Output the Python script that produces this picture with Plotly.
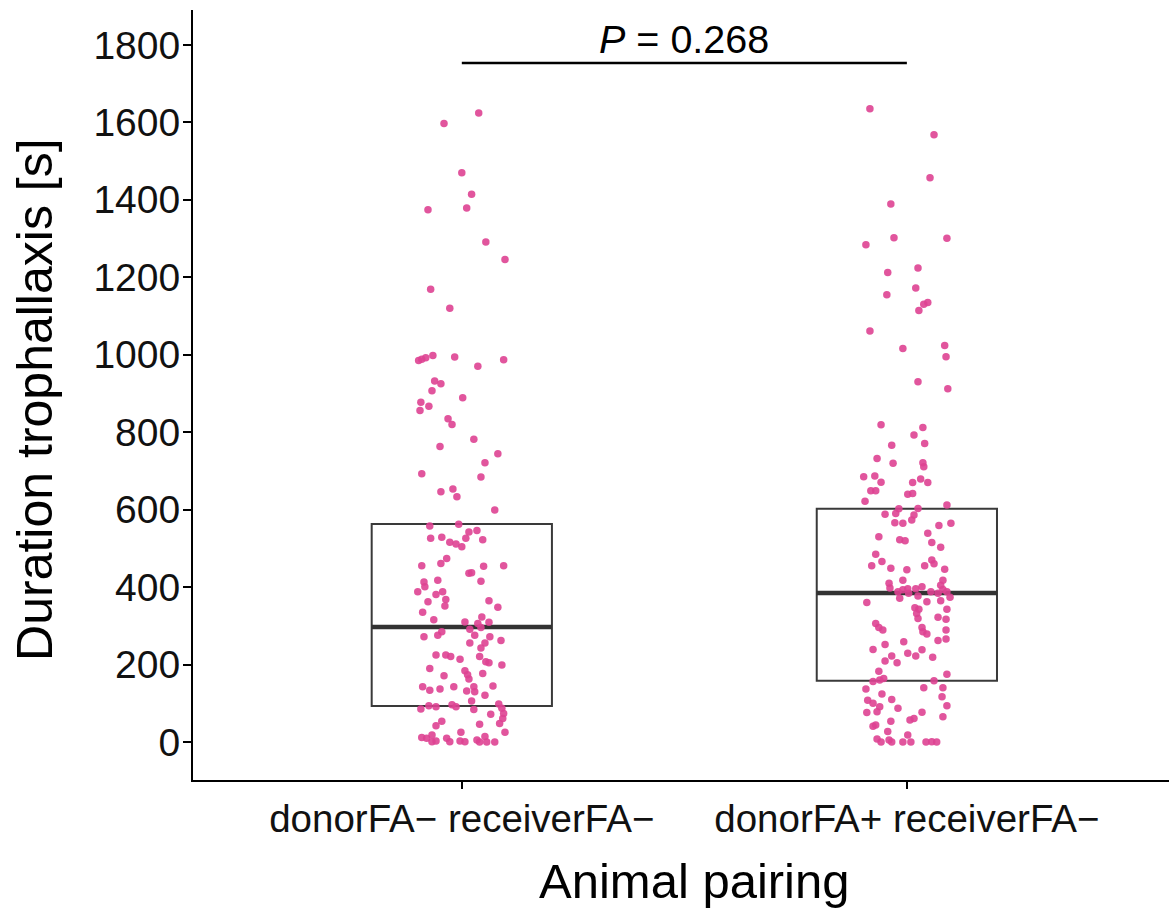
import plotly.graph_objects as go

# Group labels and summary statistics (seconds)
categories = ["donorFA\u2212 receiverFA\u2212", "donorFA+ receiverFA\u2212"]
q1_vals = [93, 158]
median_vals = [297, 385]
q3_vals = [563, 602]

# Individual trophallaxis durations: horizontal jitter (category units) and duration (s)
jitter_a = [0.038, -0.040, 0.000, 0.022, -0.076, 0.011, 0.054, 0.097, -0.070, -0.027,
            -0.097, -0.090, -0.081, -0.065, -0.016, 0.036, 0.094, -0.061, -0.047, -0.067,
            0.002, -0.092, -0.074, -0.094, -0.031, -0.022, 0.027, -0.049, 0.081, 0.052,
            -0.090, 0.043, -0.047, -0.020, -0.011, 0.074, -0.072, -0.007, 0.016, 0.034,
            -0.070, -0.045, -0.027, -0.013, 0.000, 0.009, 0.047, -0.034, -0.047, -0.090,
            0.049, 0.094, 0.016, 0.022, -0.054, 0.043, -0.085, -0.083, -0.099, -0.058,
            -0.043, -0.036, -0.076, -0.038, 0.061, 0.081, -0.088, 0.045, -0.063, 0.007,
            0.036, 0.061, 0.043, 0.018, -0.045, -0.054, -0.085, 0.029, 0.063, 0.088,
            0.018, 0.052, 0.043, -0.058, -0.036, -0.025, -0.004, 0.040, 0.054, 0.061,
            -0.072, 0.090, 0.007, -0.040, 0.013, 0.016, 0.047, -0.088, -0.072, -0.049,
            -0.018, 0.011, 0.027, 0.029, 0.052, 0.070, 0.022, -0.092, -0.074, -0.058,
            -0.022, -0.013, 0.027, 0.083, 0.090, 0.094, 0.065, 0.092, 0.085, -0.045,
            -0.058, 0.040, 0.097, -0.002, -0.090, -0.079, -0.067, -0.067, -0.058, -0.034,
            -0.027, -0.004, 0.007, 0.034, 0.040, 0.052, 0.056, 0.074]
duration_a = [1624, 1597, 1470, 1414, 1374, 1379, 1291, 1246, 1169, 1120,
              985, 988, 992, 998, 994, 970, 987, 932, 925, 907,
              889, 877, 867, 856, 835, 820, 782, 763, 744, 721,
              693, 684, 646, 653, 633, 599, 558, 562, 542, 546,
              526, 529, 516, 511, 504, 526, 522, 474, 461, 455,
              454, 455, 436, 437, 418, 415, 413, 401, 388, 381,
              388, 368, 362, 351, 365, 348, 335, 323, 316, 310,
              306, 309, 296, 291, 285, 276, 272, 276, 272, 262,
              256, 256, 243, 225, 225, 221, 214, 221, 207, 205,
              190, 199, 184, 171, 174, 163, 177, 143, 134, 137,
              143, 132, 143, 130, 121, 145, 106, 85, 94, 91,
              96, 91, 84, 98, 87, 74, 72, 61, 48, 54,
              42, 46, 25, 25, 12, 10, 18, 1, 3, 10,
              1, 3, 1, 5, 0, 14, 0, 0]

jitter_b = [-0.083, 0.061, 0.052, -0.036, -0.092, -0.029, 0.090, -0.043, 0.025, 0.020,
            -0.045, 0.047, 0.038, 0.027, -0.083, -0.009, 0.085, 0.088, 0.025, 0.092,
            -0.058, 0.036, 0.016, 0.040, -0.034, -0.067, -0.031, 0.036, 0.038, -0.097,
            -0.072, -0.058, 0.013, 0.031, 0.047, -0.081, -0.070, 0.002, 0.013, -0.094,
            0.090, -0.018, 0.025, -0.049, -0.025, 0.016, -0.027, -0.009, 0.011, 0.072,
            0.099, -0.063, 0.047, -0.016, -0.004, 0.056, 0.076, -0.070, -0.056, -0.079,
            -0.036, 0.000, 0.040, 0.056, 0.061, 0.085, -0.009, -0.040, 0.081, 0.076,
            0.081, -0.038, -0.020, -0.009, 0.002, 0.020, 0.034, 0.054, 0.070, 0.090,
            -0.016, 0.004, 0.025, 0.097, -0.090, 0.045, 0.076, 0.018, 0.027, 0.090,
            0.022, 0.025, 0.070, 0.088, -0.070, -0.063, -0.054, 0.034, 0.036, 0.045,
            0.088, 0.070, 0.088, -0.007, -0.049, -0.076, 0.002, 0.034, 0.020, -0.034,
            -0.049, -0.022, 0.058, -0.063, 0.090, -0.076, -0.061, -0.052, 0.061, -0.092,
            0.038, 0.081, -0.056, 0.079, -0.088, -0.076, -0.034, 0.090, -0.061, -0.020,
            -0.090, -0.067, 0.034, 0.081, 0.016, 0.007, -0.036, -0.076, -0.070, -0.043,
            0.002, -0.067, -0.058, -0.040, -0.034, -0.009, 0.009, 0.043, 0.056, 0.067]
duration_b = [1635, 1568, 1457, 1389, 1284, 1302, 1301, 1212, 1224, 1172,
              1155, 1135, 1130, 1114, 1061, 1016, 1024, 995, 930, 912,
              819, 812, 793, 771, 766, 732, 720, 721, 711, 685,
              687, 671, 670, 679, 670, 649, 649, 640, 642, 622,
              612, 602, 603, 588, 590, 586, 566, 565, 573, 559,
              565, 530, 539, 522, 520, 515, 503, 485, 466, 455,
              449, 445, 455, 470, 460, 446, 418, 410, 418, 405,
              394, 398, 388, 393, 396, 396, 401, 388, 384, 388,
              371, 384, 377, 374, 360, 362, 365, 347, 343, 343,
              332, 319, 322, 317, 306, 296, 289, 296, 285, 279,
              289, 262, 266, 259, 252, 239, 229, 238, 222, 222,
              209, 205, 219, 183, 175, 156, 160, 164, 158, 137,
              140, 140, 124, 117, 108, 100, 110, 94, 91, 87,
              76, 78, 77, 65, 61, 57, 54, 41, 44, 27,
              18, 8, 0, 5, 0, 0, 0, 0, 1, 0]

# Significance bracket between the two groups
bracket_y = 1753
p_label = "<i>P</i> = 0.268"

y_ticks = [0, 200, 400, 600, 800, 1000, 1200, 1400, 1600, 1800]

FONT = "Liberation Sans, Arial, Helvetica, sans-serif"
POINT_COLOR = "rgba(222, 66, 146, 0.9)"
BOX_WIDTH = 0.405

fig = go.Figure()

# Boxes without whiskers (fences equal to the quartiles)
fig.add_trace(go.Box(
    x=[0, 1], q1=q1_vals, median=median_vals, q3=q3_vals,
    lowerfence=q1_vals, upperfence=q3_vals,
    width=BOX_WIDTH, fillcolor="rgba(255,255,255,0)",
    line=dict(color="#3a3a3a", width=2),
    boxpoints=False, hoverinfo="skip", showlegend=False,
))

# Thicker median bars
for i, med in enumerate(median_vals):
    fig.add_trace(go.Scatter(
        x=[i - BOX_WIDTH / 2, i + BOX_WIDTH / 2], y=[med, med],
        mode="lines", line=dict(color="#333333", width=4.5),
        hoverinfo="skip", showlegend=False,
    ))

# Jittered observations
for i, (jit, dur) in enumerate([(jitter_a, duration_a), (jitter_b, duration_b)]):
    fig.add_trace(go.Scatter(
        x=[i + j for j in jit], y=dur, mode="markers",
        marker=dict(color=POINT_COLOR, size=7.5, line=dict(width=0)),
        name=categories[i], showlegend=False,
    ))

# Bracket line
fig.add_trace(go.Scatter(
    x=[0, 1], y=[bracket_y, bracket_y], mode="lines",
    line=dict(color="black", width=2.5), hoverinfo="skip", showlegend=False,
))

fig.update_layout(
    width=1169, height=908,
    margin=dict(l=193, r=0, t=10, b=128),
    paper_bgcolor="white", plot_bgcolor="white",
    font=dict(family=FONT, color="black"),
    xaxis=dict(
        range=[-0.604, 1.589], tickvals=[0, 1], ticktext=categories,
        showline=True, linecolor="black", linewidth=2, mirror=False,
        ticks="outside", ticklen=7, tickwidth=2, tickcolor="black",
        showgrid=False, zeroline=False, ticklabelstandoff=-3,
        tickfont=dict(size=38.5, family=FONT, color="#111111"),
    ),
    yaxis=dict(
        range=[-98, 1890], tickvals=y_ticks,
        showline=True, linecolor="black", linewidth=2,
        ticks="outside", ticklen=8, tickwidth=2, tickcolor="black",
        showgrid=False, zeroline=False, ticklabelstandoff=-5,
        tickfont=dict(size=39, family=FONT, color="#111111"),
    ),
    annotations=[
        dict(text=p_label, x=0.5, y=bracket_y, xref="x", yref="y",
             xanchor="center", yanchor="bottom", yshift=0, showarrow=False,
             font=dict(size=39.5, family=FONT, color="black")),
        dict(text="Animal pairing", x=0.514, y=0.0, xref="paper", yref="paper",
             xanchor="center", yanchor="bottom", yshift=-130, showarrow=False,
             font=dict(size=49, family=FONT, color="black")),
        dict(text="Duration trophallaxis [s]", x=-0.162, y=0.4935,
             xref="paper", yref="paper", textangle=-90,
             xanchor="center", yanchor="middle", showarrow=False,
             font=dict(size=50, family=FONT, color="black")),
    ],
)

fig.write_html("out.html")
